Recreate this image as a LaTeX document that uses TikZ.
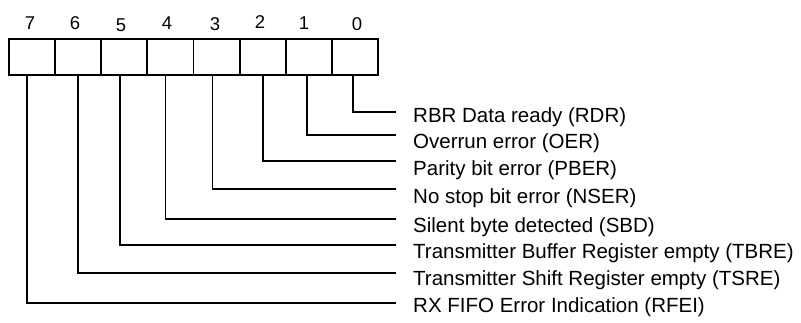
\documentclass[tikz,border=0pt]{standalone}
\usepackage{fontspec}
\setmainfont{Liberation Sans}
\begin{document}
\begin{tikzpicture}[x=1pt,y=-1pt,
  cell/.style={draw,line width=1.8pt,minimum width=46.1pt,minimum height=36pt,inner sep=0pt,outer sep=0pt},
  bitno/.style={font=\fontsize{18.5}{22}\selectfont,inner sep=0pt},
  lbl/.style={font=\fontsize{20.5}{24}\selectfont,anchor=west,inner sep=0pt},
  wire/.style={line width=1.8pt}]
\useasboundingbox (0,0) rectangle (801,322);
% cells, bit 7 leftmost
\foreach \b [evaluate=\b as \cx using {9+46.125*(7-\b)+23.06}] in {0,...,7}{
  \node[cell] (c\b) at (\cx,57) {};
}
% bit numbers
\node[bitno] (n7) at (30,23.5) {7};
\node[bitno] (n6) at (75,23) {6};
\node[bitno] (n5) at (121,25.5) {5};
\node[bitno] (n4) at (167,22.7) {4};
\node[bitno] (n3) at (215,24) {3};
\node[bitno] (n2) at (260,21.7) {2};
\node[bitno] (n1) at (304,23.3) {1};
\node[bitno] (n0) at (357,23.7) {0};
% labels
\node[lbl] (l0) at (413,117) {RBR Data ready (RDR)};
\node[lbl] (l1) at (413,143) {Overrun error (OER)};
\node[lbl] (l2) at (413,170) {Parity bit error (PBER)};
\node[lbl] (l3) at (413,198) {No stop bit error (NSER)};
\node[lbl] (l4) at (413,227) {Silent byte detected (SBD)};
\node[lbl] (l5) at (413,253) {Transmitter Buffer Register empty (TBRE)};
\node[lbl] (l6) at (413,280) {Transmitter Shift Register empty (TSRE)};
\node[lbl] (l7) at (413,307) {RX FIFO Error Indication (RFEI)};
% wire end points
\coordinate (e0) at (396,112);
\coordinate (e1) at (396,135);
\coordinate (e2) at (396,161);
\coordinate (e3) at (396,189);
\coordinate (e4) at (396,219);
\coordinate (e5) at (396,245);
\coordinate (e6) at (396,273);
\coordinate (e7) at (396,303);
\draw[wire] ([xshift=-2pt]c0.south) |- (e0);
\draw[wire] ([xshift=-2pt]c1.south) |- (e1);
\draw[wire] ([xshift=0pt]c2.south) |- (e2);
\draw[wire] ([xshift=-4pt]c3.south) |- (e3);
\draw[wire] ([xshift=-5pt]c4.south) |- (e4);
\draw[wire] ([xshift=-4pt]c5.south) |- (e5);
\draw[wire] ([xshift=0pt]c6.south) |- (e6);
\draw[wire] ([xshift=-5pt]c7.south) |- (e7);
\end{tikzpicture}
\end{document}
